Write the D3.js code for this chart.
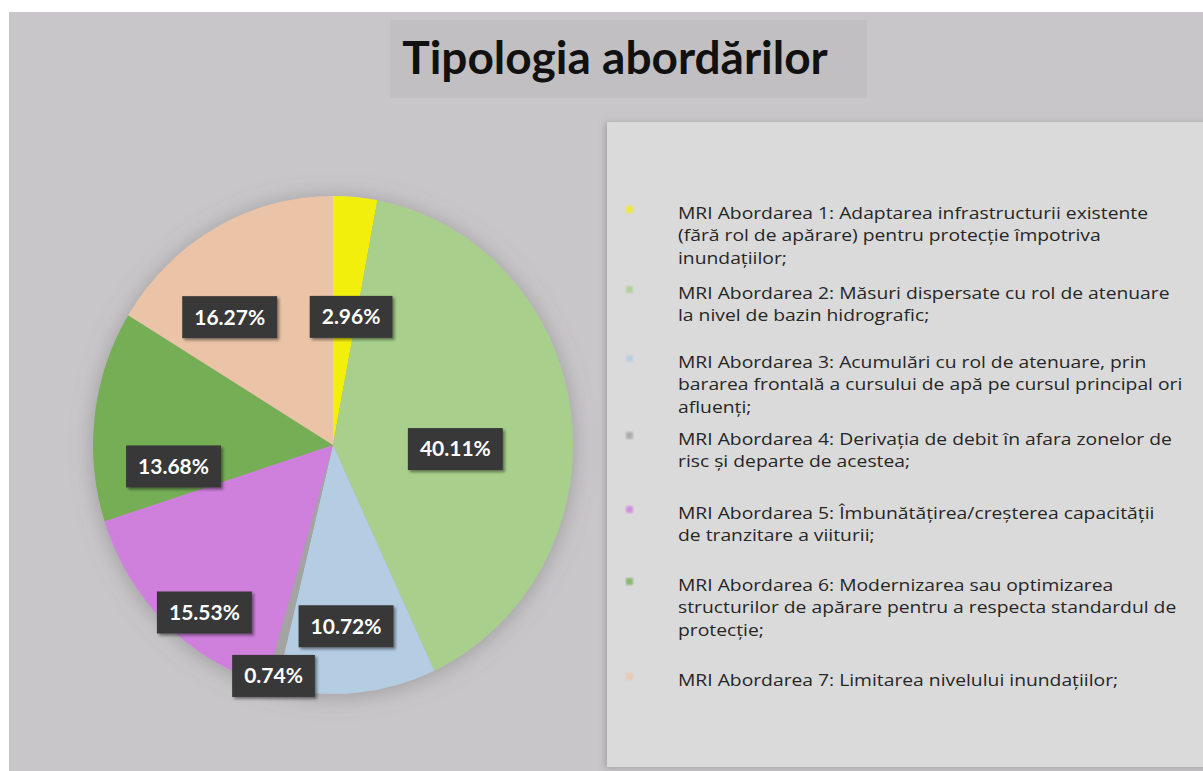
<html>
<head>
<meta charset="utf-8">
<title>Tipologia abordărilor</title>
<style>
  body { margin: 0; background: #ffffff; }
  svg { display: block; }
</style>
</head>
<body>
<div id="chart"></div>
<script src="https://cdnjs.cloudflare.com/ajax/libs/d3/7.8.5/d3.min.js"></script>
<script>
// data
var categories = [
  "MRI Abordarea 1: Adaptarea infrastructurii existente|(fără rol de apărare) pentru protecție împotriva|inundațiilor;",
  "MRI Abordarea 2: Măsuri dispersate cu rol de atenuare|la nivel de bazin hidrografic;",
  "MRI Abordarea 3: Acumulări cu rol de atenuare, prin|bararea frontală a cursului de apă pe cursul principal ori|afluenți;",
  "MRI Abordarea 4: Derivația de debit în afara zonelor de|risc și departe de acestea;",
  "MRI Abordarea 5: Îmbunătățirea/creșterea capacității|de tranzitare a viiturii;",
  "MRI Abordarea 6: Modernizarea sau optimizarea|structurilor de apărare pentru a respecta standardul de|protecție;",
  "MRI Abordarea 7: Limitarea nivelului inundațiilor;"
];
var shares = [2.96, 40.11, 10.72, 0.74, 15.53, 13.68, 16.27];
var title = "Tipologia abordărilor";

// style / layout
var colors = ["#f2ef0c", "#a8d08c", "#b5cde3", "#a3a3a3", "#cf80dd", "#76ae57", "#ebc4a7"];
var labelFrac  = [0.52, 0.51, 0.73, 0.96, 0.86, 0.67, 0.67];
var labelShift = [3, 9, 1.4, 0, -5.7, -14.2, -10.7];
var legendY = [213, 293, 362, 439, 513, 585, 680];

var W = 1203, H = 771;
var cx = 333, cy = 445, rx = 240, ry = 249;

var svg = d3.select("#chart").append("svg")
  .attr("width", W).attr("height", H);

var defs = svg.append("defs");
var halo = defs.append("filter").attr("id", "halo")
  .attr("x", "-20%").attr("y", "-20%").attr("width", "140%").attr("height", "140%");
halo.append("feDropShadow").attr("dx", 0).attr("dy", 2)
  .attr("stdDeviation", 11).attr("flood-color", "#7a787a").attr("flood-opacity", 0.55);
var boxShadow = defs.append("filter").attr("id", "boxShadow")
  .attr("x", "-20%").attr("y", "-30%").attr("width", "150%").attr("height", "170%");
boxShadow.append("feDropShadow").attr("dx", 2).attr("dy", 2)
  .attr("stdDeviation", 1.5).attr("flood-color", "#000").attr("flood-opacity", 0.45);
var panelShadow = defs.append("filter").attr("id", "panelShadow")
  .attr("x", "-5%").attr("y", "-5%").attr("width", "110%").attr("height", "110%");
panelShadow.append("feDropShadow").attr("dx", -2).attr("dy", 1)
  .attr("stdDeviation", 3).attr("flood-color", "#8a888a").attr("flood-opacity", 0.6);
var blur = defs.append("filter").attr("id", "blur");
blur.append("feGaussianBlur").attr("stdDeviation", 1.2);

// background
svg.append("rect").attr("x", 9).attr("y", 12).attr("width", W - 9).attr("height", H - 12)
  .attr("fill", "#c8c6c8");

// title
svg.append("rect").attr("x", 390).attr("y", 20).attr("width", 477).attr("height", 78)
  .attr("fill", "#c1bfc1");
svg.append("text")
  .attr("x", 615).attr("y", 74)
  .attr("text-anchor", "middle")
  .attr("font-family", "Lato, 'Open Sans', sans-serif")
  .attr("font-weight", "bold")
  .attr("font-size", 46)
  .attr("fill", "#111")
  .text(title);

// legend panel
svg.append("rect").attr("x", 607).attr("y", 122).attr("width", W - 607 + 10).attr("height", 645)
  .attr("fill", "#dadada").attr("filter", "url(#panelShadow)");

// pie
var pie = d3.pie().sort(null).value(function(d){ return d; });
var arc = d3.arc().innerRadius(0).outerRadius(ry);
var arcs = pie(shares);

var g = svg.append("g")
  .attr("transform", "translate(" + cx + "," + cy + ") scale(" + (rx / ry) + ",1)");

g.append("g").attr("filter", "url(#halo)")
  .selectAll("path")
  .data(arcs)
  .enter()
  .append("path")
    .attr("d", arc)
    .attr("fill", function(d, i){ return colors[i]; });

// labels
var labels = svg.append("g").selectAll("g.lbl")
  .data(arcs)
  .enter()
  .append("g")
    .attr("class", "lbl")
    .attr("transform", function(d, i){
      var a = (d.startAngle + d.endAngle) / 2 + labelShift[i] * Math.PI / 180;
      var f = labelFrac[i];
      return "translate(" + (cx + f * rx * Math.sin(a)) + "," + (cy - f * ry * Math.cos(a)) + ")";
    });

labels.append("text")
  .attr("text-anchor", "middle")
  .attr("dy", "0.35em")
  .attr("font-family", "Lato, 'Open Sans', sans-serif")
  .attr("font-weight", "bold")
  .attr("font-size", 21)
  .attr("fill", "#ffffff")
  .text(function(d){ return d.data.toFixed(2) + "%"; });

labels.each(function(){
  var t = d3.select(this).select("text");
  var bb = t.node().getBBox();
  d3.select(this).insert("rect", "text")
    .attr("x", bb.x - 12).attr("y", -21)
    .attr("width", bb.width + 24).attr("height", 42)
    .attr("fill", "#383838")
    .attr("filter", "url(#boxShadow)");
});

// legend
var legend = svg.append("g").selectAll("g.item")
  .data(categories)
  .enter()
  .append("g")
    .attr("class", "item")
    .attr("transform", function(d, i){ return "translate(0," + legendY[i] + ")"; });

legend.append("rect")
  .attr("x", 626).attr("y", -7)
  .attr("width", 7).attr("height", 7)
  .attr("fill", function(d, i){ return colors[i]; })
  .attr("opacity", 0.8)
  .attr("filter", "url(#blur)");

legend.append("text")
  .attr("transform", "translate(678,0) scale(1.17,1)")
  .attr("font-family", "'Open Sans', sans-serif")
  .attr("font-size", 16.5)
  .attr("fill", "#262626")
  .selectAll("tspan")
  .data(function(d){ return d.split("|"); })
  .enter()
  .append("tspan")
    .attr("x", 0)
    .attr("y", function(d, j){ return j * 22.5; })
    .attr("dy", "0.35em")
    .text(function(d){ return d; });
</script>
</body>
</html>
